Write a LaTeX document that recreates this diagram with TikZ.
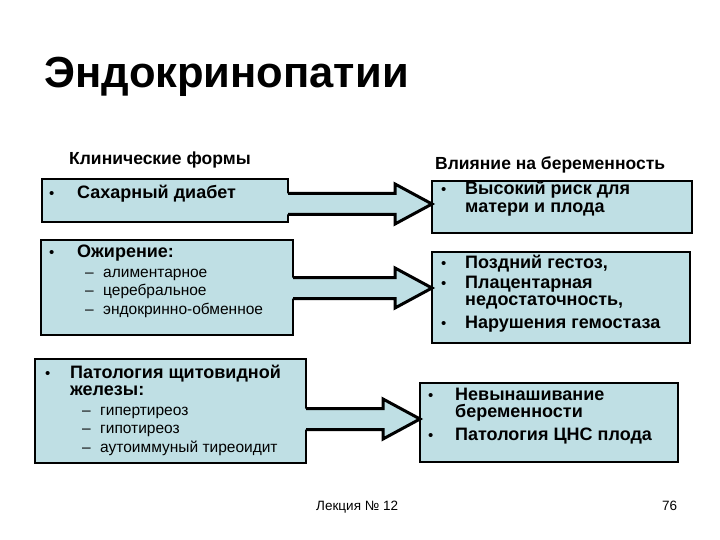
\documentclass[tikz,border=0pt]{standalone}
\usepackage{fontspec}
\setmainfont{Liberation Sans}
\usetikzlibrary{calc}
\definecolor{boxblue}{RGB}{191,223,228}
\tikzset{
  box/.style={draw=black, line width=2pt, fill=boxblue, anchor=north west, inner sep=0pt, outer sep=0pt},
  bt/.style={font=\fontsize{18}{18}\selectfont\bfseries, anchor=base west, inner sep=0pt},
  hd/.style={font=\fontsize{17.5}{18}\selectfont\bfseries, anchor=base west, inner sep=0pt},
  st/.style={font=\fontsize{15.5}{16}\selectfont, anchor=base west, inner sep=0pt},
  bul/.style={font=\fontsize{15}{16}\selectfont, anchor=base west, inner sep=0pt},
  ft/.style={font=\fontsize{13.5}{15}\selectfont, anchor=base west, inner sep=0pt},
  arrowfill/.style={fill=boxblue},
  arrowline/.style={draw=black, line width=3pt, line join=miter},
}
\newcommand\blockarrow[3]{%
  \fill[arrowfill] ($(#1.east |- 0,#3)+(-1,-10.5)$) -- ($(#2.west |- 0,#3)+(-37,-10.5)$) -- ($(#2.west |- 0,#3)+(-37,-20)$) -- (#2.west |- 0,#3) -- ($(#2.west |- 0,#3)+(-37,20)$) -- ($(#2.west |- 0,#3)+(-37,10.5)$) -- ($(#1.east |- 0,#3)+(-1,10.5)$) -- cycle;
  \draw[arrowline] ($(#1.east |- 0,#3)+(0,-10.5)$) -- ($(#2.west |- 0,#3)+(-37,-10.5)$) -- ($(#2.west |- 0,#3)+(-37,-20)$) -- (#2.west |- 0,#3) -- ($(#2.west |- 0,#3)+(-37,20)$) -- ($(#2.west |- 0,#3)+(-37,10.5)$) -- ($(#1.east |- 0,#3)+(0,10.5)$);
}
\begin{document}
\begin{tikzpicture}[x=1pt,y=-1pt]
\useasboundingbox[fill=white] (0,0) rectangle (720,540);
% title
\node[font=\fontsize{43.5}{46}\selectfont\bfseries, anchor=base west, inner sep=0pt] (title) at (44,88) {Эндокринопатии};
% headers
\node[hd] (hl) at (69,165) {Клинические формы};
\node[hd] (hr) at (435,170) {Влияние на беременность};
% boxes
\node[box, minimum width=246pt, minimum height=43pt] (L1) at (42,179) {};
\node[box, minimum width=252pt, minimum height=95pt] (L2) at (41,240) {};
\node[box, minimum width=271pt, minimum height=104pt] (L3) at (35,359) {};
\node[box, minimum width=260pt, minimum height=52pt] (R1) at (432,181) {};
\node[box, minimum width=258pt, minimum height=91pt] (R2) at (432,252) {};
\node[box, minimum width=258pt, minimum height=79pt] (R3) at (420,383) {};
% arrows
\blockarrow{L1}{R1}{204}
\blockarrow{L2}{R2}{288}
\blockarrow{L3}{R3}{419}
% left box 1
\node[bul] (b11) at (49,199) {•};
\node[bt] (t11) at (77,199) {Сахарный диабет};
% left box 2
\node[bul] (b21) at (49,257) {•};
\node[bt] (t21) at (77,257) {Ожирение:};
\node[st] (d21) at (85,277) {–};
\node[st] (s21) at (103,277) {алиментарное};
\node[st] (d22) at (85,295) {–};
\node[st] (s22) at (103,295) {церебральное};
\node[st] (d23) at (85,314) {–};
\node[st] (s23) at (103,314) {эндокринно-обменное};
% left box 3
\node[bul] (b31) at (45,378) {•};
\node[bt] (t31) at (70,378) {Патология щитовидной};
\node[bt] (t32) at (70,395) {железы:};
\node[st] (d31) at (82,415) {–};
\node[st] (s31) at (100,415) {гипертиреоз};
\node[st] (d32) at (82,433) {–};
\node[st] (s32) at (100,433) {гипотиреоз};
\node[st] (d33) at (82,452) {–};
\node[st] (s33) at (100,452) {аутоиммуный тиреоидит};
% right box 1
\node[bul] (rb11) at (441,195) {•};
\node[bt] (rt11) at (465,195) {Высокий риск для};
\node[bt] (rt12) at (465,212) {матери и плода};
% right box 2
\node[bul] (rb21) at (441,268) {•};
\node[bt] (rt21) at (465,268) {Поздний гестоз,};
\node[bul] (rb22) at (441,288) {•};
\node[bt] (rt22) at (465,288) {Плацентарная};
\node[bt] (rt23) at (465,305) {недостаточность,};
\node[bul] (rb23) at (441,328) {•};
\node[bt] (rt24) at (465,328) {Нарушения гемостаза};
% right box 3
\node[bul] (rb31) at (428,400) {•};
\node[bt] (rt31) at (455,400) {Невынашивание};
\node[bt] (rt32) at (455,417) {беременности};
\node[bul] (rb32) at (428,440) {•};
\node[bt] (rt33) at (455,440) {Патология ЦНС плода};
% footer
\node[ft] (lec) at (316,510) {Лекция № 12};
\node[ft] (num) at (662,510) {76};
\end{tikzpicture}
\end{document}
